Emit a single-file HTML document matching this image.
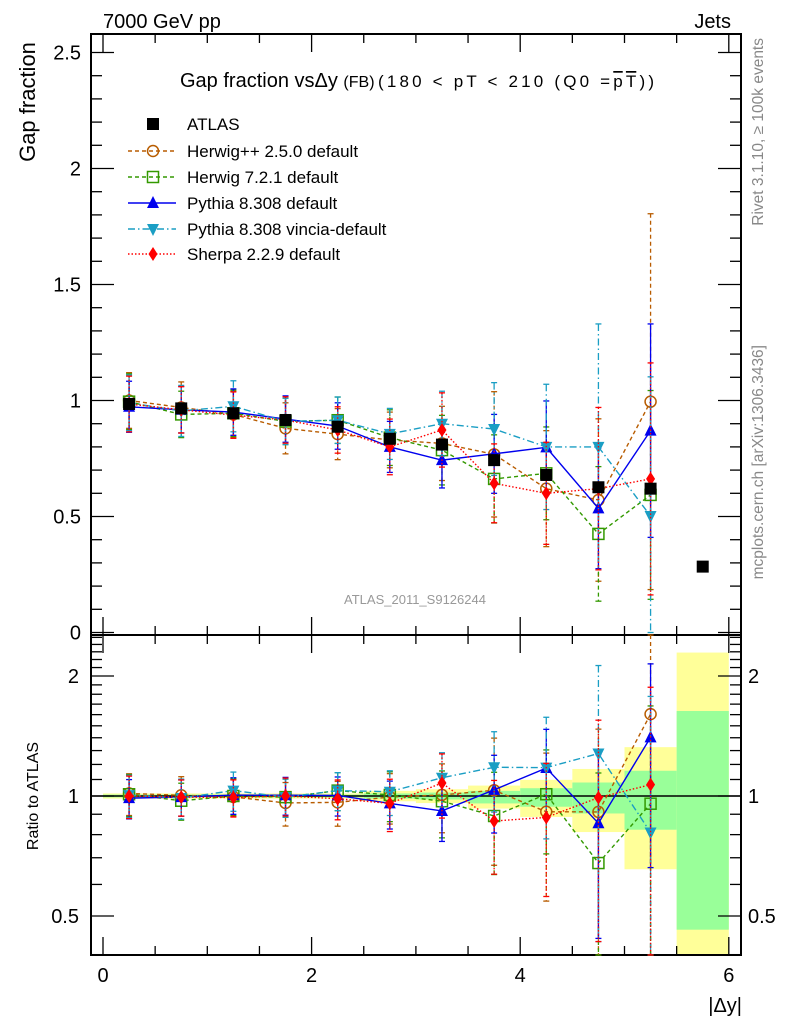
<!DOCTYPE html>
<html><head><meta charset="utf-8"><style>
body{margin:0;background:#fff;}
svg{display:block;font-family:"Liberation Sans",sans-serif;}
</style></head><body>
<svg id="chart" width="786" height="1024" viewBox="0 0 786 1024" xmlns="http://www.w3.org/2000/svg">
<g id="bands"></g>
<g id="frames"></g>
<g id="marks"></g>
<text x="103" y="28" font-size="20">7000 GeV pp</text>
<text x="731" y="28" font-size="20" text-anchor="end">Jets</text>
<text transform="translate(35,102) rotate(-90)" font-size="22" text-anchor="middle">Gap fraction</text>
<text x="180" y="87" font-size="20">Gap fraction vsΔy <tspan font-size="16">(FB)</tspan></text>
<text x="378" y="87" font-size="17" textLength="276" lengthAdjust="spacing">(180 &lt; pT &lt; 210 (Q0 =<tspan text-decoration="overline">pT</tspan>))</text>
<text x="415" y="604" font-size="13" fill="#999" text-anchor="middle">ATLAS_2011_S9126244</text>
<text transform="translate(763,38) rotate(-90)" font-size="15.5" fill="#888" text-anchor="end">Rivet 3.1.10, ≥ 100k events</text>
<text transform="translate(763,345) rotate(-90)" font-size="15.5" fill="#888" text-anchor="end">mcplots.cern.ch [arXiv:1306.3436]</text>
<text transform="translate(38,796) rotate(-90)" font-size="16" text-anchor="middle">Ratio to ATLAS</text>
<text x="742" y="1012" font-size="20" text-anchor="end">|Δy|</text>
<g id="legend"></g>
</svg>
<script>
const xCenters=[0.25,0.75,1.25,1.75,2.25,2.75,3.25,3.75,4.25,4.75,5.25];
const atlasX=[0.25,0.75,1.25,1.75,2.25,2.75,3.25,3.75,4.25,4.75,5.25,5.75];
const atlasY=[0.985,0.966,0.945,0.916,0.887,0.835,0.81,0.743,0.679,0.626,0.62,0.284];
const herwigppY=[1.0,0.97,0.94,0.88,0.855,0.83,0.815,0.768,0.62,0.571,0.995];
const herwigppErr=[0.12,0.11,0.1,0.11,0.11,0.12,0.16,0.27,0.25,0.35,0.81];
const herwig7Y=[0.995,0.94,0.945,0.91,0.915,0.84,0.786,0.662,0.686,0.425,0.593];
const herwig7Err=[0.12,0.1,0.1,0.1,0.1,0.12,0.15,0.19,0.2,0.29,0.45];
const pythiaY=[0.973,0.96,0.95,0.92,0.89,0.80,0.743,0.77,0.798,0.535,0.87];
const pythiaErr=[0.11,0.1,0.1,0.1,0.1,0.11,0.12,0.17,0.2,0.26,0.46];
const vinciaY=[0.99,0.955,0.975,0.91,0.915,0.856,0.90,0.877,0.80,0.80,0.502];
const vinciaErr=[0.12,0.11,0.11,0.1,0.1,0.11,0.14,0.2,0.27,0.53,0.6];
const sherpaY=[0.985,0.96,0.937,0.916,0.873,0.80,0.873,0.643,0.60,0.62,0.662];
const sherpaErr=[0.12,0.1,0.1,0.1,0.1,0.12,0.16,0.17,0.22,0.35,0.5];
const bandEdges=[0,0.5,1,1.5,2,2.5,3,3.5,4,4.5,5,5.5,6];
const yellowLo=[0.985,0.985,0.985,0.985,0.985,0.97,0.96,0.93,0.886,0.812,0.655,0.3];
const yellowHi=[1.015,1.015,1.015,1.015,1.015,1.03,1.04,1.062,1.098,1.169,1.326,2.29];
const greenLo=[0.992,0.992,0.992,0.992,0.992,0.985,0.98,0.958,0.94,0.904,0.823,0.462];
const greenHi=[1.008,1.008,1.008,1.008,1.008,1.015,1.02,1.03,1.046,1.081,1.157,1.634];
const mainTicks=[0,0.5,1,1.5,2,2.5];
const mainTickLabels=["0","0.5","1","1.5","2","2.5"];
const ratioTicks=[0.5,1,2];
const ratioTickLabels=["0.5","1","2"];
const xTicks=[0,2,4,6];
const xTickLabels=["0","2","4","6"];

const NS="http://www.w3.org/2000/svg";
const L=91,R=741,T=34,MB=635,RB=955;
const sx=v=>103+v*104.3;
const sy=v=>632.5-v*232;
const sr=v=>796-120*Math.log2(v);
function mk(tag,attrs,parent){const e=document.createElementNS(NS,tag);for(const k in attrs)e.setAttribute(k,attrs[k]);parent.appendChild(e);return e;}
const bands=document.getElementById('bands'),frames=document.getElementById('frames'),marks=document.getElementById('marks'),legend=document.getElementById('legend');

for(let i=0;i<bandEdges.length-1;i++){
  const x0=sx(bandEdges[i]),x1=sx(bandEdges[i+1]);
  const y=mk('rect',{x:x0,y:Math.max(MB,sr(yellowHi[i])),width:x1-x0,height:Math.min(RB,sr(yellowLo[i]))-Math.max(MB,sr(yellowHi[i])),fill:'#ffff99'},bands);
  
  
  const g=mk('rect',{x:x0,y:sr(greenHi[i]),width:x1-x0,height:sr(greenLo[i])-sr(greenHi[i]),fill:'#99ff99'},bands);
  
  
}
const f1=mk('rect',{x:L,y:T,width:R-L,height:MB-T,fill:'none',stroke:'#000','stroke-width':2},frames);


const f2=mk('rect',{x:L,y:MB,width:R-L,height:RB-MB,fill:'none',stroke:'#000','stroke-width':2},frames);


const one=mk('line',{x1:L,x2:R,y1:sr(1),y2:sr(1),stroke:'#000','stroke-width':1.5},frames);


for(let v=0;v<=2.55;v+=0.1){const y=sy(v);if(y<T)continue;const maj=Math.abs(v*2-Math.round(v*2))<1e-6;const len=maj?23:11;
  mk('line',{x1:L,x2:L+len,y1:y,y2:y,stroke:'#000','stroke-width':1.3},frames);
  mk('line',{x1:R,x2:R-len,y1:y,y2:y,stroke:'#000','stroke-width':1.3},frames);}
mainTicks.forEach((v,i)=>{const t=mk('text',{x:81,y:sy(v)+7,'font-size':20,'text-anchor':'end'},frames);t.textContent=mainTickLabels[i];
  
  });
const rminor=[0.4,0.5,0.6,0.7,0.8,0.9,1,1.1,1.2,1.3,1.4,1.5,1.6,1.7,1.8,1.9,2,2.1,2.2,2.3,2.4,2.5];
rminor.forEach(v=>{const y=sr(v);if(y<MB||y>RB)return;const maj=ratioTicks.includes(v);const len=maj?23:11;
  mk('line',{x1:L,x2:L+len,y1:y,y2:y,stroke:'#000','stroke-width':1.3},frames);
  mk('line',{x1:R,x2:R-len,y1:y,y2:y,stroke:'#000','stroke-width':1.3},frames);});
ratioTicks.forEach((v,i)=>{const t=mk('text',{x:79,y:sr(v)+7,'font-size':20,'text-anchor':'end'},frames);t.textContent=ratioTickLabels[i];
  
  
  const t2=mk('text',{x:748,y:sr(v)+7,'font-size':20},frames);t2.textContent=ratioTickLabels[i];
  
  });
for(let v=0;v<=6.01;v+=0.5){const x=sx(v);const maj=Math.abs(v%2)<1e-6;const len=maj?18:9;
  [T,MB].forEach(y0=>mk('line',{x1:x,x2:x,y1:y0,y2:y0+len,stroke:'#000','stroke-width':1.3},frames));
  [MB,RB].forEach(y0=>mk('line',{x1:x,x2:x,y1:y0,y2:y0-len,stroke:'#000','stroke-width':1.3},frames));}
xTicks.forEach((v,i)=>{const t=mk('text',{x:sx(v),y:982,'font-size':20,'text-anchor':'middle'},frames);t.textContent=xTickLabels[i];
  
  });

function marker(kind,x,y,col,parent){
  if(kind==='circle')return mk('circle',{cx:x,cy:y,r:5.5,fill:'none',stroke:col,'stroke-width':1.5},parent);
  if(kind==='square')return mk('rect',{x:x-5.5,y:y-5.5,width:11,height:11,fill:'none',stroke:col,'stroke-width':1.5},parent);
  if(kind==='up')return mk('polygon',{points:`${x},${y-7} ${x-6},${y+5} ${x+6},${y+5}`,fill:col},parent);
  if(kind==='down')return mk('polygon',{points:`${x},${y+7} ${x-6},${y-5} ${x+6},${y-5}`,fill:col},parent);
  if(kind==='diamond')return mk('polygon',{points:`${x},${y-7} ${x-4.5},${y} ${x},${y+7} ${x+4.5},${y}`,fill:col},parent);
  return mk('rect',{x:x-6,y:y-6,width:12,height:12,fill:col},parent);
}
const series=[
 {name:'herwigpp',label:'Herwig++ 2.5.0 default',y:herwigppY,e:herwigppErr,col:'#b85c00',dash:'4,3',m:'circle'},
 {name:'herwig7',label:'Herwig 7.2.1 default',y:herwig7Y,e:herwig7Err,col:'#339900',dash:'4,3',m:'square'},
 {name:'pythia',label:'Pythia 8.308 default',y:pythiaY,e:pythiaErr,col:'#0000ee',dash:'',m:'up'},
 {name:'vincia',label:'Pythia 8.308 vincia-default',y:vinciaY,e:vinciaErr,col:'#1a9ec4',dash:'7,3,1.5,3',m:'down'},
 {name:'sherpa',label:'Sherpa 2.2.9 default',y:sherpaY,e:sherpaErr,col:'#ff0000',dash:'1.5,2',m:'diamond'}];
function clip(y,a,b){return Math.max(a,Math.min(b,y));}
series.forEach(s=>{
  const g=mk('g',{},marks);
  
  
  let pts=xCenters.map((x,i)=>sx(x)+','+sy(s.y[i])).join(' ');
  const pl=mk('polyline',{points:pts,fill:'none',stroke:s.col,'stroke-width':1.4,'stroke-dasharray':s.dash},g);
  
  
  const rv=xCenters.map((x,i)=>s.y[i]/atlasY[i]);
  const re=xCenters.map((x,i)=>s.e[i]/atlasY[i]);
  let rpts=xCenters.map((x,i)=>sx(x)+','+clip(sr(rv[i]),MB,RB)).join(' ');
  const rl=mk('polyline',{points:rpts,fill:'none',stroke:s.col,'stroke-width':1.4,'stroke-dasharray':s.dash},g);
  
  
  xCenters.forEach((x,i)=>{
    const X=sx(x);
    const y1=clip(sy(s.y[i]+s.e[i]),T,MB),y2=clip(sy(Math.max(0,s.y[i]-s.e[i])),T,MB);
    mk('line',{x1:X,x2:X,y1:y1,y2:y2,stroke:s.col,'stroke-width':1.3,'stroke-dasharray':s.dash},g);
    mk('line',{x1:X-3,x2:X+3,y1:y1,y2:y1,stroke:s.col,'stroke-width':1.3},g);
    mk('line',{x1:X-3,x2:X+3,y1:y2,y2:y2,stroke:s.col,'stroke-width':1.3},g);
    const m=marker(s.m,X,sy(s.y[i]),s.col,g);
    
    
    const lo=rv[i]-re[i];
    const r1=clip(sr(rv[i]+re[i]),MB,RB),r2=lo>0?clip(sr(lo),MB,RB):RB;
    mk('line',{x1:X,x2:X,y1:r1,y2:r2,stroke:s.col,'stroke-width':1.3,'stroke-dasharray':s.dash},g);
    mk('line',{x1:X-3,x2:X+3,y1:r1,y2:r1,stroke:s.col,'stroke-width':1.3},g);
    mk('line',{x1:X-3,x2:X+3,y1:r2,y2:r2,stroke:s.col,'stroke-width':1.3},g);
    const ry=sr(rv[i]);
    if(ry>=MB&&ry<=RB){const rm=marker(s.m,X,ry,s.col,g);
      
      }
  });
});
atlasX.forEach((x,i)=>{const m=marker('filled',sx(x),sy(atlasY[i]),'#000',marks);
  
  });
const ly=[124,151,177,203,229,254];
const lm=mk('rect',{x:147,y:ly[0]-6,width:12,height:12,fill:'#000'},legend);


const lt=mk('text',{x:187,y:ly[0]+6,'font-size':17},legend);lt.textContent='ATLAS';


series.forEach((s,i)=>{const y=ly[i+1];
  mk('line',{x1:128,x2:176,y1:y,y2:y,stroke:s.col,'stroke-width':1.4,'stroke-dasharray':s.dash},legend);
  const m=marker(s.m,153,y,s.col,legend);
  
  
  const t=mk('text',{x:187,y:y+6,'font-size':17},legend);t.textContent=s.label;
  
  
});
</script>
</body></html>
